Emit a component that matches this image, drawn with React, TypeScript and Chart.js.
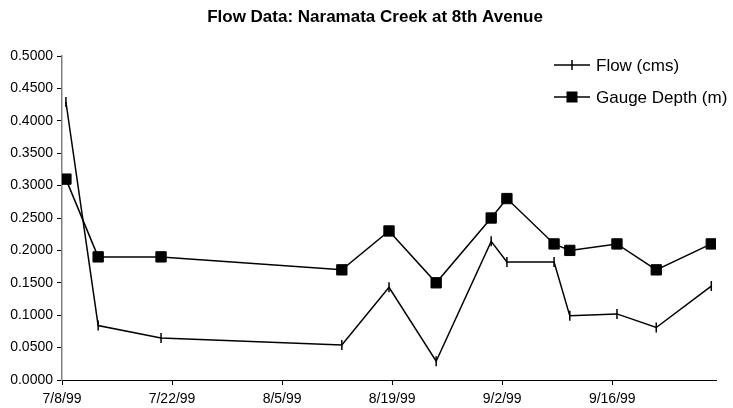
import React, { useEffect, useRef } from "react";
import { Chart, registerables } from "chart.js";

Chart.register(...registerables);

// Days after 7/8/99 of each measurement
const sampleDays = [0.5, 4.6, 12.6, 35.6, 41.6, 47.6, 54.6, 56.6, 62.6, 64.6, 70.6, 75.6, 82.6];
const flowCms = [0.429, 0.084, 0.065, 0.054, 0.143, 0.029, 0.214, 0.182, 0.182, 0.099, 0.102, 0.081, 0.145];
const gaugeDepth = [0.31, 0.19, 0.19, 0.17, 0.23, 0.15, 0.25, 0.28, 0.21, 0.2, 0.21, 0.17, 0.21];
const xTickDays = [0, 14, 28, 42, 56, 70];
const xTickLabels = ["7/8/99", "7/22/99", "8/5/99", "8/19/99", "9/2/99", "9/16/99"];
const seriesNames = ["Flow (cms)", "Gauge Depth (m)"];
const titleText = "Flow Data: Naramata Creek at 8th Avenue";

const FONT = "'Liberation Sans', Arial, sans-serif";

const overlayPlugin = {
  id: "overlay",
  afterDraw(chart: any) {
    const ctx = chart.ctx as CanvasRenderingContext2D;
    ctx.save();
    // title
    ctx.fillStyle = "#000";
    ctx.font = `bold 17px ${FONT}`;
    ctx.textAlign = "center";
    ctx.textBaseline = "middle";
    ctx.fillText(titleText, 375, 17);
    // legend
    ctx.font = `17px ${FONT}`;
    ctx.textAlign = "left";
    const rows = [65, 97];
    rows.forEach((y, i) => {
      ctx.strokeStyle = "#000";
      ctx.lineWidth = 1.5;
      ctx.beginPath();
      ctx.moveTo(554, y);
      ctx.lineTo(590, y);
      ctx.stroke();
      if (i === 0) {
        ctx.beginPath();
        ctx.moveTo(572, y - 5);
        ctx.lineTo(572, y + 5);
        ctx.stroke();
      } else {
        ctx.fillStyle = "#000";
        ctx.fillRect(566.5, y - 5.5, 11, 11);
      }
      ctx.fillStyle = "#000";
      ctx.fillText(seriesNames[i], 596, y + 1);
    });
    ctx.restore();
  },
};

export default function App() {
  const ref = useRef<HTMLCanvasElement | null>(null);
  useEffect(() => {
    if (!ref.current) return;
    const chart = new Chart(ref.current, {
      type: "line",
      data: {
        datasets: [
          {
            label: seriesNames[1],
            data: sampleDays.map((d, i) => ({ x: d, y: gaugeDepth[i] })),
            borderColor: "#000",
            backgroundColor: "#000",
            borderWidth: 1.5,
            pointStyle: "rect",
            pointRadius: 7.3,
            pointBorderWidth: 1,
            pointBackgroundColor: "#000",
            pointBorderColor: "#000",
            tension: 0,
          },
          {
            label: seriesNames[0],
            data: sampleDays.map((d, i) => ({ x: d, y: flowCms[i] })),
            borderColor: "#000",
            backgroundColor: "#000",
            borderWidth: 1.5,
            pointStyle: "line",
            pointRotation: 90,
            pointRadius: 5,
            pointBorderWidth: 1.5,
            pointBorderColor: "#000",
            tension: 0,
          },
        ],
      },
      options: {
        animation: false,
        responsive: true,
        maintainAspectRatio: false,
        layout: { padding: { top: 56, right: 17, left: 0, bottom: 0 } },
        plugins: {
          legend: { display: false },
          title: { display: false },
          tooltip: { enabled: false },
        },
        scales: {
          x: {
            type: "linear",
            min: 0,
            max: 83.2,
            afterBuildTicks: (scale: any) => {
              scale.ticks = xTickDays.map((v) => ({ value: v }));
            },
            afterFit: (scale: any) => {
              scale.height = 28;
            },
            ticks: {
              autoSkip: false,
              maxRotation: 0,
              padding: 6,
              color: "#000",
              font: { family: FONT, size: 14 },
              callback: (v: any) => {
                const idx = xTickDays.indexOf(Number(v));
                return idx >= 0 ? xTickLabels[idx] : "";
              },
            },
            grid: {
              display: true,
              drawOnChartArea: false,
              drawTicks: true,
              tickLength: 5,
              tickColor: "#000",
              tickWidth: 1,
            },
            border: { display: true, color: "#000", width: 1 },
          },
          y: {
            min: 0,
            max: 0.5,
            afterFit: (scale: any) => {
              scale.width = 62;
            },
            ticks: {
              stepSize: 0.05,
              padding: 4,
              color: "#000",
              font: { family: FONT, size: 14 },
              callback: (v: any) => Number(v).toFixed(4),
            },
            grid: {
              display: true,
              drawOnChartArea: false,
              drawTicks: true,
              tickLength: 5,
              tickColor: "#000",
              tickWidth: 1,
            },
            border: { display: true, color: "#808080", width: 1.5 },
          },
        },
      },
      plugins: [overlayPlugin],
    } as any);
    return () => chart.destroy();
  }, []);
  return (
    <div
      style={{
        position: "fixed",
        left: 0,
        top: 0,
        width: 733,
        height: 408,
        background: "#fff",
      }}
    >
      <canvas ref={ref} />
    </div>
  );
}
